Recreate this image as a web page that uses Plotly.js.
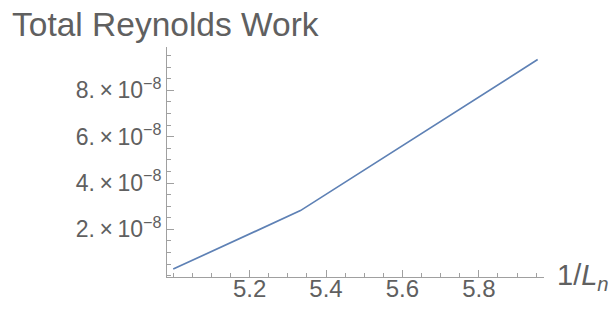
<!DOCTYPE html>
<html>
<head>
<meta charset="utf-8">
<script src="https://cdn.plot.ly/plotly-3.0.1.min.js"></script>
<style>html,body{margin:0;padding:0;background:#fff;}#chart{width:616px;height:310px;}</style>
</head>
<body>
<div id="chart"></div>
<script>
// Data
const invLn = [5.0, 5.333, 5.954];
const reynoldsWork = [0.29e-8, 2.81e-8, 9.32e-8];
const xTickVals = [5.2, 5.4, 5.6, 5.8];
const xTickText = ["5.2", "5.4", "5.6", "5.8"];
const yTickVals = [2e-8, 4e-8, 6e-8, 8e-8];
const yTickText = ["2.\u2009×\u200910<sup>−8</sup>", "4.\u2009×\u200910<sup>−8</sup>", "6.\u2009×\u200910<sup>−8</sup>", "8.\u2009×\u200910<sup>−8</sup>"];

const FONT = "Arial, 'Liberation Sans', sans-serif";
const TXT = "#606060";
const AX = "#a0a0a0";

const trace = {
  x: invLn, y: reynoldsWork, type: "scatter", mode: "lines",
  line: {color: "#5e81b5", width: 1.7},
  hoverinfo: "skip"
};

const layout = {
  width: 616, height: 310,
  margin: {l: 167, r: 72, t: 47, b: 33, pad: 0},
  paper_bgcolor: "#fff", plot_bgcolor: "#fff",
  showlegend: false,
  font: {family: FONT, color: TXT},
  title: {text: "Total Reynolds Work", font: {family: FONT, size: 33.5, color: TXT},
          xref: "container", x: 12/616, xanchor: "left",
          yref: "container", y: 1 - 24/310, yanchor: "middle"},
  xaxis: {
    range: [4.9837, 5.9706], showgrid: false, zeroline: false,
    showline: true, linecolor: AX, linewidth: 1,
    tickmode: "array", tickvals: xTickVals, ticktext: xTickText,
    ticks: "inside", ticklen: 7, tickcolor: AX, tickwidth: 1,
    ticklabelstandoff: -10,
    tickfont: {family: FONT, size: 24, color: TXT},
    minor: {ticks: "inside", ticklen: 4, tickcolor: AX, dtick: 0.05, tick0: 5.0, showgrid: false}
  },
  yaxis: {
    range: [-0.052e-8, 9.862e-8], showgrid: false, zeroline: false,
    showline: true, linecolor: AX, linewidth: 1,
    tickmode: "array", tickvals: yTickVals, ticktext: yTickText,
    ticks: "inside", ticklen: 7, tickcolor: AX, tickwidth: 1,
    tickfont: {family: FONT, size: 23, color: TXT},
    minor: {ticks: "inside", ticklen: 4, tickcolor: AX, dtick: 0.5e-8, tick0: 0, showgrid: false}
  },
  annotations: [{
    text: "1/<i>L<sub>n</sub></i>", xref: "paper", yref: "paper",
    x: 1.028, y: 0, xanchor: "left", yanchor: "middle", showarrow: false,
    font: {family: FONT, size: 29, color: TXT}
  }]
};

Plotly.newPlot("chart", [trace], layout, {staticPlot: true, displayModeBar: false});
</script>
</body>
</html>
